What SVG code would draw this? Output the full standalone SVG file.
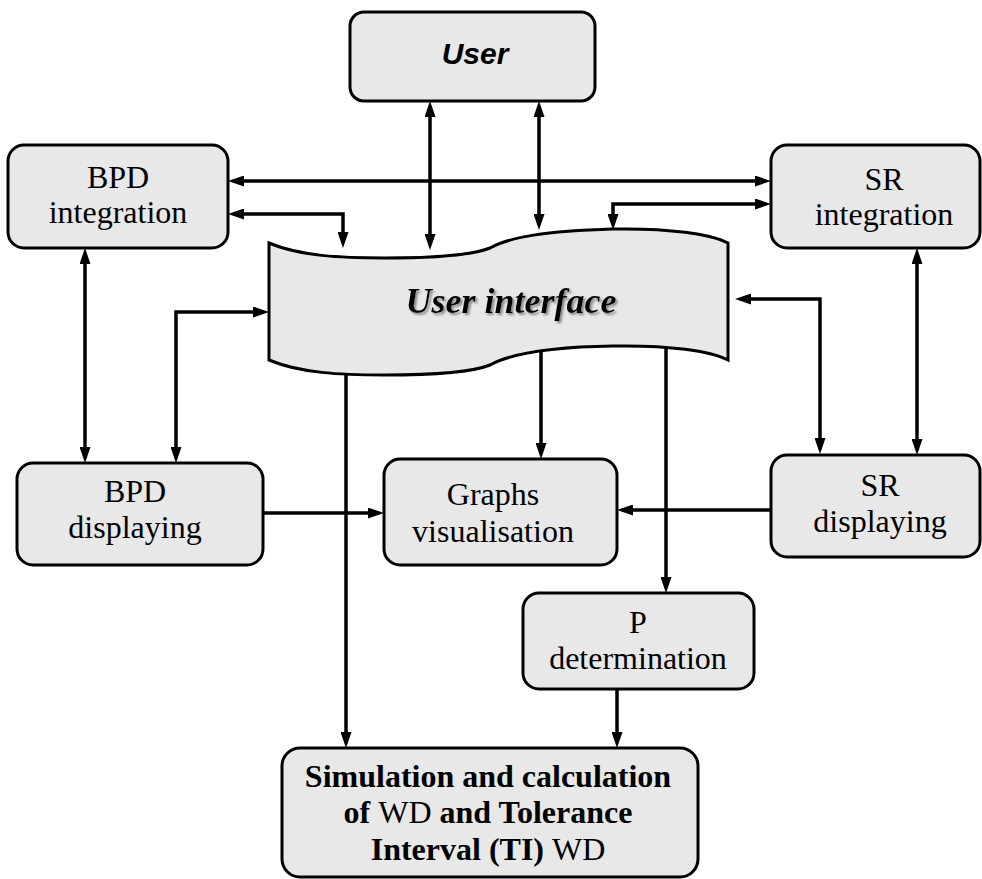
<svg xmlns="http://www.w3.org/2000/svg" width="982" height="879" viewBox="0 0 982 879">
  <defs>
    <marker id="head" viewBox="0 0 16 11" refX="11" refY="5.5" markerWidth="16" markerHeight="11" markerUnits="userSpaceOnUse" orient="auto-start-reverse">
      <path d="M0,0 L16,5.5 L0,11 z" fill="#000"/>
    </marker>
    <filter id="shadow" x="-10%" y="-30%" width="130%" height="160%">
      <feDropShadow dx="2" dy="2" stdDeviation="0.8" flood-color="#8a8a8a" flood-opacity="1"/>
    </filter>
  </defs>
  <style>
    .box { fill: #e8e8e8; stroke: #000; stroke-width: 3; }
    .lbl { font-family: "Liberation Serif", "Times New Roman", serif; font-size: 32px; fill: #000; text-anchor: middle; }
    .b { font-weight: bold; }
    .n { font-weight: normal; }
    .wire { fill: none; stroke: #000; stroke-width: 3.5; }
    .one { marker-end: url(#head); }
    .two { marker-start: url(#head); marker-end: url(#head); }
  </style>

  <rect width="982" height="879" fill="#fff"/>

  <!-- connectors -->
  <g id="connectors">
    <path class="wire two" d="M430,106 L430,245"/>
    <path class="wire two" d="M539,106 L539,225"/>
    <path class="wire two" d="M233,181 L766,181"/>
    <path class="wire two" d="M233,214 L343,214 L343,243"/>
    <path class="wire two" d="M766,204 L613,204 L613,225"/>
    <path class="wire two" d="M85,253 L85,458"/>
    <path class="wire two" d="M264,312 L176,312 L176,458"/>
    <path class="wire two" d="M917,253 L917,450"/>
    <path class="wire two" d="M740,299 L820,299 L820,449"/>
    <path class="wire one" d="M263,513 L379,513"/>
    <path class="wire one" d="M771,510 L622,510"/>
    <path class="wire one" d="M541,352 L541,454"/>
    <path class="wire one" d="M666,346 L666,588"/>
    <path class="wire one" d="M346,372 L346,743"/>
    <path class="wire one" d="M617,689 L617,743"/>
  </g>

  <!-- User -->
  <g id="user">
    <rect class="box" x="350" y="12" width="245" height="89" rx="14"/>
    <text x="475" y="64" font-family="Liberation Sans, Arial, sans-serif" font-size="30" font-weight="bold" font-style="italic" text-anchor="middle">User</text>
  </g>

  <!-- User interface (tape shape) -->
  <g id="user-interface">
    <path class="box" d="M269,243 C300,256 340,258 384,258 C430,258 470,256 490,248 C510,237 545,231 613,229 C670,228 710,234 728,243 L728,360 C710,351 670,345 613,346 C545,347 510,354 490,365 C470,373 430,375 384,375 C340,375 300,373 269,360 Z"/>
    <text x="511" y="313" class="lbl b" font-style="italic" style="font-size:36px" filter="url(#shadow)">User interface</text>
  </g>

  <!-- BPD integration -->
  <g id="bpd-integration">
    <rect class="box" x="8" y="145" width="220" height="103" rx="16"/>
    <text class="lbl" x="118" y="188">BPD</text>
    <text class="lbl" x="118" y="223">integration</text>
  </g>

  <!-- SR integration -->
  <g id="sr-integration">
    <rect class="box" x="771" y="145" width="209" height="103" rx="16"/>
    <text class="lbl" x="884" y="190">SR</text>
    <text class="lbl" x="884" y="225">integration</text>
  </g>

  <!-- BPD displaying -->
  <g id="bpd-displaying">
    <rect class="box" x="17" y="463" width="246" height="102" rx="16"/>
    <text class="lbl" x="135" y="502">BPD</text>
    <text class="lbl" x="135" y="538">displaying</text>
  </g>

  <!-- Graphs visualisation -->
  <g id="graphs-visualisation">
    <rect class="box" x="384" y="459" width="233" height="106" rx="16"/>
    <text class="lbl" x="493" y="505">Graphs</text>
    <text class="lbl" x="493" y="542">visualisation</text>
  </g>

  <!-- SR displaying -->
  <g id="sr-displaying">
    <rect class="box" x="771" y="455" width="209" height="102" rx="16"/>
    <text class="lbl" x="880" y="496">SR</text>
    <text class="lbl" x="880" y="532">displaying</text>
  </g>

  <!-- P determination -->
  <g id="p-determination">
    <rect class="box" x="523" y="593" width="231" height="96" rx="16"/>
    <text class="lbl" x="638" y="633">P</text>
    <text class="lbl" x="638" y="669">determination</text>
  </g>

  <!-- Simulation and calculation -->
  <g id="simulation">
    <rect class="box" x="282" y="748" width="416" height="129" rx="18"/>
    <text class="lbl b" x="488" y="787">Simulation and calculation</text>
    <text class="lbl b" x="488" y="823">of <tspan class="n">WD</tspan> and Tolerance</text>
    <text class="lbl b" x="488" y="860">Interval (TI) <tspan class="n">WD</tspan></text>
  </g>
</svg>
